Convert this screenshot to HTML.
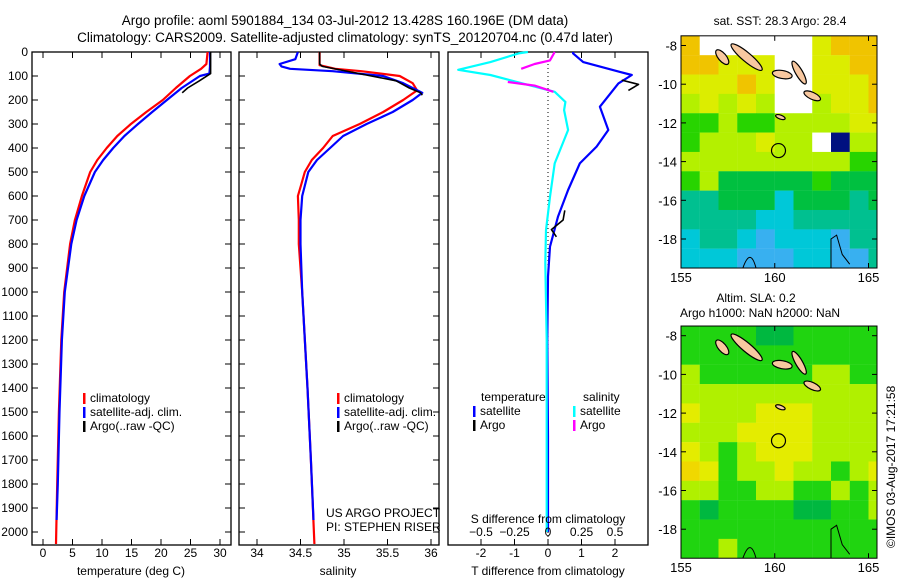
<!DOCTYPE html>
<html><head><meta charset="utf-8"><style>
body{margin:0;background:#fff;width:900px;height:580px;overflow:hidden}
svg{display:block;font-family:"Liberation Sans",sans-serif}
</style></head><body>
<svg id="s" width="900" height="580" viewBox="0 0 900 580" xmlns="http://www.w3.org/2000/svg">
<text x="345" y="25" font-size="13.5" text-anchor="middle">Argo profile: aoml 5901884_134 03-Jul-2012 13.428S 160.196E (DM data)</text>
<text x="345" y="42" font-size="13.5" text-anchor="middle">Climatology: CARS2009. Satellite-adjusted climatology: synTS_20120704.nc (0.47d later)</text>
<g id="g"></g>
</svg>
<script>
// ---- data ----
const tClimDepth=[0,50,70,100,150,200,250,300,350,400,450,500,600,700,800,1000,1200,1500,1800,2050];
const tClimVal=[27.9,27.7,26.8,24.9,22.5,20.3,17.5,14.9,12.6,10.8,9.2,8.0,6.6,5.4,4.6,3.6,3.1,2.7,2.4,2.2];
const tSatDepth=[0,60,90,100,150,200,250,300,350,400,450,500,600,700,800,1000,1200,1500,1800,1950];
const tSatVal=[28.3,28.3,28.2,26.6,23.5,21.0,18.5,16.1,13.8,11.9,10.2,8.8,7.0,5.7,4.8,3.7,3.2,2.8,2.5,2.3];
const tArgoDepth=[0,90,120,150,170];
const tArgoVal=[28.4,28.4,26.5,24.5,23.6];
const sClimDepth=[0,55,70,80,100,130,160,200,250,300,350,400,450,500,550,600,700,800,1000,1400,1700,2050];
const sClimVal=[34.72,34.72,34.9,35.2,35.64,35.79,35.84,35.68,35.45,35.18,34.87,34.76,34.63,34.55,34.51,34.47,34.48,34.48,34.52,34.58,34.62,34.66];
const sSatDepth=[0,30,50,60,70,80,100,130,170,200,250,300,350,400,450,500,600,700,800,1000,1400,1700,1950];
const sSatVal=[34.47,34.44,34.26,34.28,34.38,34.87,35.45,35.68,35.9,35.79,35.56,35.26,34.99,34.84,34.69,34.59,34.52,34.5,34.5,34.52,34.58,34.62,34.65];
const sArgoDepth=[0,50,60,120,150,170,180];
const sArgoVal=[34.72,34.72,34.75,35.6,35.75,35.88,35.9];
const dTSatDepth=[0,6,42,83,96,131,228,325,394,464,575,686,811,936,1200,1600,2000];
const dTSatVal=[0.75,0.75,1.05,2.15,2.5,2.1,1.55,1.8,1.45,0.95,0.6,0.3,0.06,0.0,-0.02,0.0,0.0];
const dTArgoDepth=[117,135,160];
const dTArgoVal=[2.2,2.7,2.4];
const dTArgo2Depth=[660,700,740,770];
const dTArgo2Val=[0.5,0.45,0.1,0.25];
const dSSatDepth=[0,6,42,74,96,131,166,208,242,325,464,603,742,880,1200,1600,2000];
const dSSatVal=[-0.15,-0.22,-0.43,-0.67,-0.43,-0.19,0.05,0.13,0.12,0.15,0.05,0.015,-0.015,-0.02,-0.01,-0.01,-0.01];
const dSArgoDepth=[0,20,35,50,70];
const dSArgoVal=[0.05,0.03,0.015,-0.1,-0.2];
const dSArgo2Depth=[125,140,166];
const dSArgo2Val=[-0.3,-0.1,0.04];
const depthTicks=[0,100,200,300,400,500,600,700,800,900,1000,1100,1200,1300,1400,1500,1600,1700,1800,1900,2000];
const tTicks=[0,5,10,15,20,25,30];
const sTicks=[34,34.5,35,35.5,36];
const dTTicks=[-2,-1,0,1,2];
const dSTicks=[-0.5,-0.25,0,0.25,0.5];
const lonTicks=[155,160,165];
const latTicks=[-8,-10,-12,-14,-16,-18];
const sstGrid=["owwwwwwyooo","ooyyywwyyoo","yyyoywwyyyo","lylylwwlyyo","gglggllllyy","glllyllwdll","lllllllllgg","glGGGGGgGGG","ttGGGcGGGtG","ttttccttttt","cttcbcccbtt","cccbbbccbbt"];
const slaGrid=["ggggGGggggg","ggggggggggg","lggggggllgg","lllllllllll","ylllyyyllll","lllyyyyllll","ylglyyyllll","oygllyllgly","llggllgglgl","gGggggGGggl","ggggggggggg","gglgggggggg"];
// ---- helpers ----
const NS="http://www.w3.org/2000/svg";
const G=document.getElementById('g');
function mk(tag,at,name,parent){const e=document.createElementNS(NS,tag);for(const k in at)e.setAttribute(k,at[k]);


(parent||G).appendChild(e);return e;}
function txt(x,y,s,name,anchor,size){const e=mk('text',{x:x,y:y,'font-size':size||12,'text-anchor':anchor||'middle'},name);e.textContent=s;return e;}
const Y0=52,Y1=545;
const yD=d=>Y0+d*0.24;
function panel(x0,x1,name){
  mk('rect',{x:x0,y:Y0,width:x1-x0,height:Y1-Y0,fill:'none',stroke:'#000','stroke-width':1.3},name+'-frame');
}
function xticks(ticks,fx,name,labelY,fmt){
  ticks.forEach(t=>{const x=fx(t);
    mk('line',{x1:x,x2:x,y1:Y1,y2:Y1-6,stroke:'#000'},name+'-tick');
    mk('line',{x1:x,x2:x,y1:Y0,y2:Y0+6,stroke:'#000'},name+'-tick-top');
    txt(x,labelY,fmt?fmt(t):String(t),name+'-label');});
}
function line(ds,vs,fx,color,name,w){
  const pts=ds.map((d,i)=>fx(vs[i]).toFixed(1)+','+yD(d).toFixed(1)).join(' ');
  mk('polyline',{points:pts,fill:'none',stroke:color,'stroke-width':w||2.2,'stroke-linejoin':'round'},name);
}
// panel 1 temperature
const fT=v=>43+v*5.9;
panel(32,231,'temperature-panel');
xticks(tTicks,fT,'temperature-x',557);
depthTicks.forEach(d=>{mk('line',{x1:32,x2:38,y1:yD(d),y2:yD(d),stroke:'#000'},'depth-tick');
 mk('line',{x1:231,x2:225,y1:yD(d),y2:yD(d),stroke:'#000'},'depth-tick-right');
 txt(28,yD(d)+4,String(d),'depth-tick-label','end');});
line(tClimDepth,tClimVal,fT,'#f00','temperature-climatology-line');
line(tSatDepth,tSatVal,fT,'#00f','temperature-satellite-line');
line(tArgoDepth,tArgoVal,fT,'#000','temperature-argo-line',1.6);
txt(131,575,'temperature (deg C)','temperature-x-axis-title');
function legend(x,y,items,name){items.forEach((it,i)=>{mk('rect',{x:x,y:y+i*14-9,width:2.5,height:11,fill:it[1]},name+'-swatch');txt(x+7,y+i*14,it[0],name+'-entry','start');});}
legend(83,402,[['climatology','#f00'],['satellite-adj. clim.','#00f'],['Argo(..raw -QC)','#000']],'temperature-legend');
// panel 2 salinity
const fS=v=>257+(v-34)*87;
panel(239,439,'salinity-panel');
xticks(sTicks,fS,'salinity-x',557);
depthTicks.forEach(d=>{mk('line',{x1:239,x2:245,y1:yD(d),y2:yD(d),stroke:'#000'},'salinity-depth-tick');mk('line',{x1:439,x2:433,y1:yD(d),y2:yD(d),stroke:'#000'},'salinity-depth-tick-right');});
line(sClimDepth,sClimVal,fS,'#f00','salinity-climatology-line');
line(sSatDepth,sSatVal,fS,'#00f','salinity-satellite-line');
line(sArgoDepth,sArgoVal,fS,'#000','salinity-argo-line',1.6);
txt(338,575,'salinity','salinity-x-axis-title');
legend(337,402,[['climatology','#f00'],['satellite-adj. clim.','#00f'],['Argo(..raw -QC)','#000']],'salinity-legend');
txt(326,517,'US ARGO PROJECT','project-label','start');
txt(326,531,'PI: STEPHEN RISER','pi-label','start');
// panel 3 differences
const fdT=v=>548+v*33.5, fdS=v=>548+v*134;
panel(448,648,'difference-panel');
xticks(dTTicks,fdT,'t-difference-x',557);
mk('line',{x1:548,x2:548,y1:Y0,y2:Y1,stroke:'#000','stroke-dasharray':'1,3'},'zero-line');
line(dTSatDepth,dTSatVal,fdT,'#00f','t-difference-satellite-line');
line(dTArgoDepth,dTArgoVal,fdT,'#000','t-difference-argo-line',1.6);
line(dTArgo2Depth,dTArgo2Val,fdT,'#000','t-difference-argo-line-deep',1.6);
line(dSSatDepth,dSSatVal,fdS,'#0ff','s-difference-satellite-line');
line(dSArgoDepth,dSArgoVal,fdS,'#f0f','s-difference-argo-line');
line(dSArgo2Depth,dSArgo2Val,fdS,'#f0f','s-difference-argo-line-2');
dSTicks.forEach(t=>txt(fdS(t),536,String(t).replace('-','\u2212'),'s-difference-label'));
txt(548,523,'S difference from climatology','s-difference-axis-title');
txt(548,575,'T difference from climatology','t-difference-axis-title');
txt(481,401,'temperature','difference-legend-temperature','start');
txt(583,401,'salinity','difference-legend-salinity','start');
legend(473,415,[['satellite','#00f'],['Argo','#000']],'difference-legend-t');
legend(573,415,[['satellite','#0ff'],['Argo','#f0f']],'difference-legend-s');
// maps
const colSST={o:'#f0c400',y:'#dced00',l:'#b4f000',g:'#28d400',G:'#00c040',t:'#00c090',c:'#00c8d8',b:'#38b0f0',w:'#ffffff',d:'#001080'};
const colSLA={o:'#f0d800',y:'#e4ec00',l:'#b0f000',g:'#20d410',G:'#00b840'};
function map(grid,cols,name,lat8y){
  const fx=lon=>681+(lon-155)*18.75, fy=lat=>lat8y+(-8-lat)*19.35;
  const x0=681,x1=877,y0=fy(-7.5),y1=fy(-19.5);
  grid.forEach((row,r)=>{for(let c=0;c<11;c++){const ch=row[c]||'g';
    mk('rect',{x:fx(155+c),y:fy(-7.5-r),width:18.9,height:19.5,fill:cols[ch]||cols.g},name+'-cell');}});
  mk('rect',{x:x1,y:y0-2,width:22,height:y1-y0+4,fill:'#fff'},name+'-clip');
  [[158.5,-8.6,36,7,40],[157.2,-8.6,14,6,50],[160.4,-9.5,16,6,10],[161.3,-9.4,22,5,60],[162.0,-10.6,14,5,25],[160.3,-11.7,6,2,20]].forEach(e=>{
    mk('ellipse',{cx:fx(e[0]),cy:fy(e[1]),rx:e[2]/2+2,ry:e[3]/2+1,transform:`rotate(${e[4]} ${fx(e[0])} ${fy(e[1])})`,fill:'#f8c8a0',stroke:'#000','stroke-width':1.2},name+'-island');});
  mk('path',{d:`M${fx(163)} ${y1} L${fx(163)} ${fy(-18)} L${fx(163.3)} ${fy(-17.8)} L${fx(163.6)} ${fy(-18.8)} L${fx(164)} ${fy(-19.3)}`,fill:'none',stroke:'#000'},name+'-reef');
  mk('path',{d:`M${fx(158.3)} ${y1} Q${fx(158.7)} ${fy(-18.4)} ${fx(159)} ${y1}`,fill:'none',stroke:'#000'},name+'-reef-2');
  mk('circle',{cx:fx(160.2),cy:fy(-13.43),r:7,fill:'none',stroke:'#000','stroke-width':1.2},name+'-argo-location');
  mk('rect',{x:x0,y:y0,width:x1-x0,height:y1-y0,fill:'none',stroke:'#000'},name+'-frame');
  lonTicks.forEach(l=>{mk('line',{x1:fx(l),x2:fx(l),y1:y1,y2:y1-5,stroke:'#000'},name+'-lon-tick');mk('line',{x1:fx(l),x2:fx(l),y1:y0,y2:y0+5,stroke:'#000'},name+'-lon-tick-top');txt(fx(l),y1+14,String(l),name+'-lon-label',null,13);});
  latTicks.forEach(l=>{mk('line',{x1:x0,x2:x0+5,y1:fy(l),y2:fy(l),stroke:'#000'},name+'-lat-tick');mk('line',{x1:x1,x2:x1-5,y1:fy(l),y2:fy(l),stroke:'#000'},name+'-lat-tick-right');txt(x0-4,fy(l)+5,String(l),name+'-lat-label','end',13);});
}
map(sstGrid,colSST,'sst-map',45.5);
map(slaGrid,colSLA,'sla-map',335.7);
txt(780,25,'sat. SST: 28.3 Argo: 28.4','sst-map-title',null,12);
txt(756,302,'Altim. SLA: 0.2','sla-map-title',null,12);
txt(760,317,'Argo h1000: NaN h2000: NaN','sla-map-subtitle',null,12);
const c=txt(0,0,'\u00a9IMOS 03-Aug-2017 17:21:58','timestamp-label','start',12);
c.setAttribute('transform','translate(895,548) rotate(-90)');
</script>
</body></html>
